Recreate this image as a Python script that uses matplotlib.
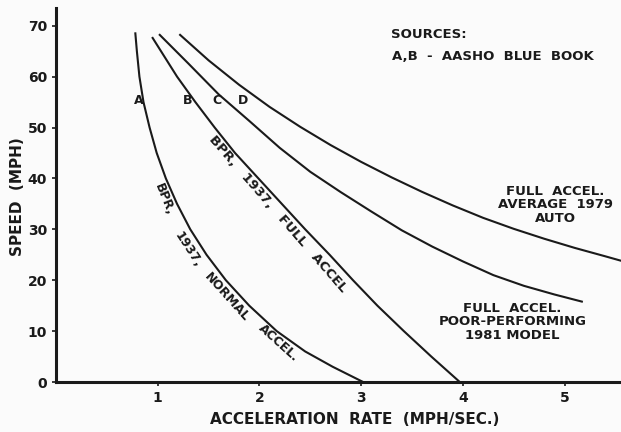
import matplotlib.pyplot as plt

# curve A - BPR 1937 normal accel
a_spd = [68.5, 65, 60, 55, 50, 45, 40, 35, 30, 25, 20, 15, 10, 6, 3, 0]
a_acc = [0.78, 0.795, 0.82, 0.86, 0.92, 0.99, 1.08, 1.19, 1.32, 1.48, 1.67, 1.90, 2.17, 2.45, 2.72, 3.02]

# curve B - BPR 1937 full accel
b_spd = [67.6, 60, 55, 50, 45, 40, 35, 30, 25, 20, 15, 10, 5, 0]
b_acc = [0.95, 1.19, 1.37, 1.56, 1.76, 1.99, 2.22, 2.45, 2.69, 2.92, 3.16, 3.42, 3.69, 3.97]

# curve C - full accel, poor-performing 1981 model
c_acc = [1.02, 1.3, 1.6, 1.9, 2.2, 2.5, 2.8, 3.1, 3.4, 3.7, 4.0, 4.3, 4.6, 4.9, 5.17]
c_spd = [68.2, 62.6, 56.5, 51.3, 46.0, 41.3, 37.3, 33.5, 29.8, 26.6, 23.7, 21.0, 18.9, 17.2, 15.8]

# curve D - full accel, average 1979 auto
d_acc = [1.22, 1.5, 1.8, 2.1, 2.4, 2.7, 3.0, 3.3, 3.6, 3.9, 4.2, 4.5, 4.8, 5.1, 5.4, 5.56]
d_spd = [68.2, 63.2, 58.4, 54.05, 50.15, 46.55, 43.25, 40.2, 37.35, 34.7, 32.25, 30.1, 28.15, 26.35, 24.7, 23.8]

x_ticks = [1, 2, 3, 4, 5]
y_ticks = [0, 10, 20, 30, 40, 50, 60, 70]

ink = '#1a1a1a'
txt = dict(color=ink, fontweight='bold', family='DejaVu Sans')

fig = plt.figure(figsize=(6.21, 4.32), dpi=100, facecolor='#fbfbfb')
ax = fig.add_axes([0.0902, 0.1157, 0.9098, 0.866])
ax.set_facecolor('#fbfbfb')

for xs, ys in [(a_acc, a_spd), (b_acc, b_spd), (c_acc, c_spd), (d_acc, d_spd)]:
    ax.plot(xs, ys, color=ink, lw=1.5, solid_joinstyle='round')

ax.set_xlim(0, 5.555)
ax.set_ylim(0, 73.5)
ax.set_xticks(x_ticks)
ax.set_yticks(y_ticks)
ax.tick_params(axis='both', direction='out', length=3, width=1.2, colors=ink, labelsize=10)
for lab in ax.get_xticklabels() + ax.get_yticklabels():
    lab.set_fontweight('bold')
ax.spines['top'].set_visible(False)
ax.spines['right'].set_visible(False)
for s in ['left', 'bottom']:
    ax.spines[s].set_linewidth(2.2)
    ax.spines[s].set_color(ink)

fig.text(355 / 621, 1 - 420 / 432, 'ACCELERATION  RATE  (MPH/SEC.)', ha='center', va='center', fontsize=11, **txt)
fig.text(18 / 621, 1 - 197 / 432, 'SPEED  (MPH)', ha='center', va='center', rotation=90, fontsize=11, **txt)

# curve letters
for s, x in zip(['A', 'B', 'C', 'D'], [0.81, 1.29, 1.58, 1.84]):
    ax.text(x, 55.4, s, ha='center', va='center', fontsize=9, **txt)

ax.text(3.29, 68.2, 'SOURCES:', ha='left', va='center', fontsize=9.5, **txt)
ax.text(3.30, 63.9, 'A,B  -  AASHO  BLUE  BOOK', ha='left', va='center', fontsize=9.5, **txt)

ax.text(4.91, 34.8, 'FULL  ACCEL.\nAVERAGE  1979\nAUTO', ha='center', va='center',
        fontsize=9.5, linespacing=1.05, **txt)
ax.text(4.49, 11.8, 'FULL  ACCEL.\nPOOR-PERFORMING\n1981 MODEL', ha='center', va='center',
        fontsize=9.5, linespacing=1.05, **txt)

ax.text(2.18, 33.0, 'BPR,   1937,   FULL   ACCEL', ha='center', va='center', rotation=-49,
        rotation_mode='anchor', fontsize=9.5, **txt)

# curved label along A, word by word
for w, x, y, r in [('BPR,', 1.06, 35.8, -68), ('1937,', 1.30, 26.0, -57),
                   ('NORMAL', 1.68, 16.7, -48), ('ACCEL.', 2.19, 7.7, -42)]:
    ax.text(x, y, w, ha='center', va='center', rotation=r, rotation_mode='anchor', fontsize=9, **txt)

fig.savefig('out.png', dpi=100, facecolor=fig.get_facecolor())
